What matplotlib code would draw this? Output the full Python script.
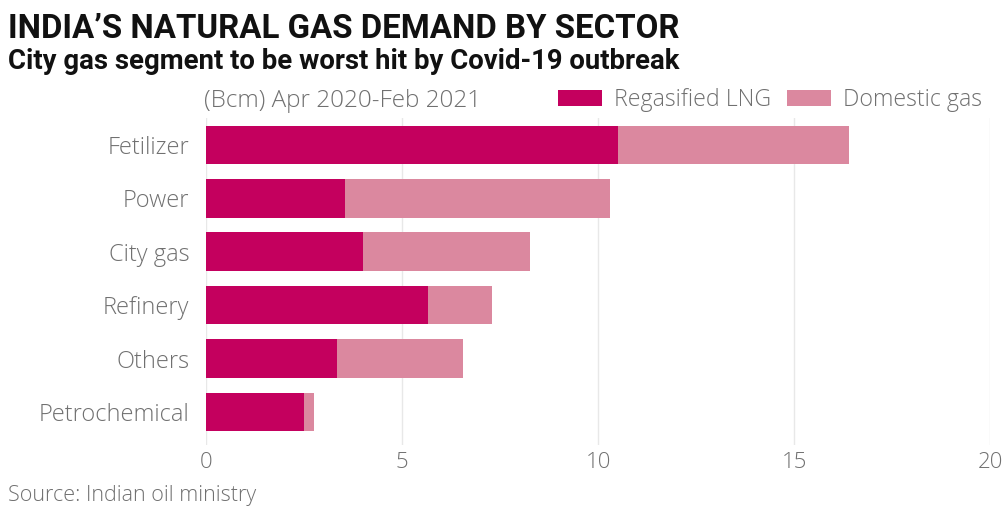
import numpy as np
import matplotlib.pyplot as plt

sectors = ["Fetilizer", "Power", "City gas", "Refinery", "Others", "Petrochemical"]
lng = [10.5, 3.55, 4.0, 5.65, 3.35, 2.5]
domestic = [5.9, 6.75, 4.25, 1.65, 3.2, 0.25]
xticks = [0, 5, 10, 15, 20]

c_lng = "#c4005e"
c_dom = "#db889f"
grey = "#707070"

plt.rcParams['font.family'] = ['Open Sans', 'DejaVu Sans']

fig = plt.figure(figsize=(10.08, 5.07), dpi=100)
ax = fig.add_axes([0.2044, 0.122, 0.778, 0.645])

y = np.arange(len(sectors))
ax.barh(y, lng, height=0.72, color=c_lng, label="Regasified LNG", zorder=3)
ax.barh(y, domestic, left=lng, height=0.72, color=c_dom, label="Domestic gas", zorder=3)

ax.set_xlim(0, 20)
ax.set_ylim(5.62, -0.5)
ax.set_xticks(xticks)
ax.set_xticklabels([str(t) for t in xticks], fontsize=16, color=grey, fontweight='light')
ax.set_yticks(y)
ax.set_yticklabels(sectors, fontsize=17, color=grey, fontweight='light')
ax.tick_params(axis='x', length=0, pad=5)
ax.tick_params(axis='y', length=0, pad=12)
ax.grid(axis='x', color="#e8e8e8", linewidth=1, zorder=0)
for s in ax.spines.values():
    s.set_visible(False)

fig.text(0.008, 0.975, "INDIA\u2019S NATURAL GAS DEMAND BY SECTOR", fontsize=23.8,
         fontweight='bold', color="#111111", va='top', family=['Roboto', 'DejaVu Sans'])
fig.text(0.008, 0.905, "City gas segment to be worst hit by Covid-19 outbreak", fontsize=19.8,
         fontweight='bold', color="#111111", va='top', family=['Roboto', 'DejaVu Sans'])
fig.text(0.202, 0.80, "(Bcm) Apr 2020-Feb 2021", fontsize=17.5, color=grey, va='center',
         fontweight='light')
fig.text(0.008, 0.022, "Source: Indian oil ministry", fontsize=15.5, color=grey, va='center',
         fontweight='light')

leg = ax.legend(loc='lower right', bbox_to_anchor=(1.016, 0.955), ncol=2, frameon=False,
                fontsize=16.7, handlelength=1.9, handleheight=0.7, columnspacing=0.7,
                handletextpad=0.5, labelcolor=grey)
for t in leg.get_texts():
    t.set_fontweight('light')

fig.savefig("out.png", dpi=100)
